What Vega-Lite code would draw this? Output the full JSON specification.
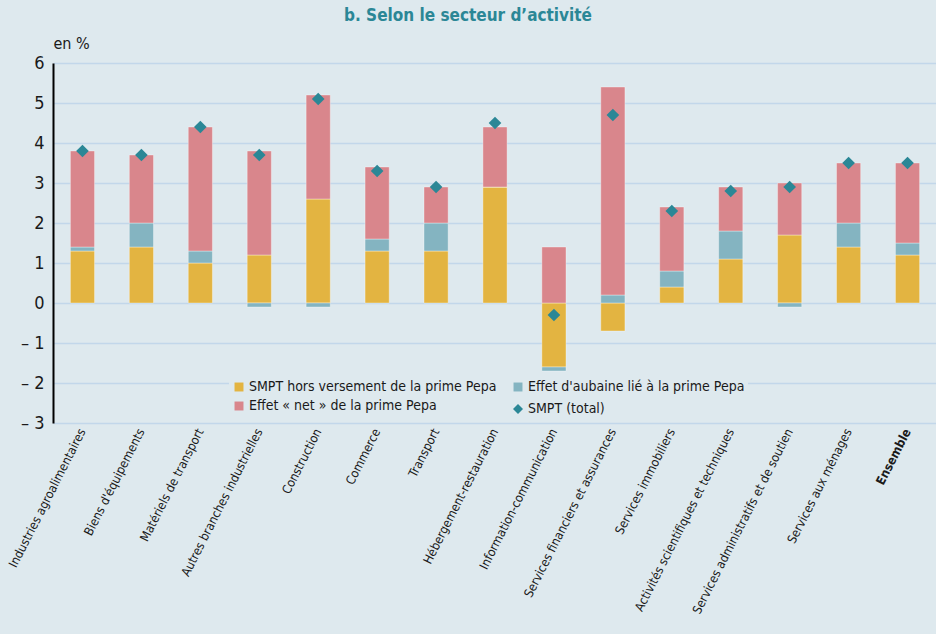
{
  "$schema": "https://vega.github.io/schema/vega-lite/v6.json",
  "autosize": {"type": "none"},
  "padding": {"left": 53, "top": 63, "right": 0, "bottom": 211},
  "width": 884,
  "height": 360,
  "background": "#dee9ee",
  "title": {
    "text": "b. Selon le secteur d’activité",
    "fontSize": 17,
    "font": "DejaVu Sans Condensed, sans-serif",
    "fontWeight": "bold",
    "color": "#2b8796",
    "anchor": "middle",
    "dx": -27,
    "offset": 10
  },
  "config": {
    "view": {"stroke": null},
    "font": "DejaVu Sans Condensed, sans-serif"
  },
  "datasets": {
    "barres": [
      {"secteur": "Industries agroalimentaires", "serie": "SMPT hors versement de la prime Pepa", "valeur": 1.3},
      {"secteur": "Industries agroalimentaires", "serie": "Effet d'aubaine lié à la prime Pepa", "valeur": 0.1},
      {"secteur": "Industries agroalimentaires", "serie": "Effet « net » de la prime Pepa", "valeur": 2.4},
      {"secteur": "Biens d'équipements", "serie": "SMPT hors versement de la prime Pepa", "valeur": 1.4},
      {"secteur": "Biens d'équipements", "serie": "Effet d'aubaine lié à la prime Pepa", "valeur": 0.6},
      {"secteur": "Biens d'équipements", "serie": "Effet « net » de la prime Pepa", "valeur": 1.7},
      {"secteur": "Matériels de transport", "serie": "SMPT hors versement de la prime Pepa", "valeur": 1.0},
      {"secteur": "Matériels de transport", "serie": "Effet d'aubaine lié à la prime Pepa", "valeur": 0.3},
      {"secteur": "Matériels de transport", "serie": "Effet « net » de la prime Pepa", "valeur": 3.1},
      {"secteur": "Autres branches industrielles", "serie": "SMPT hors versement de la prime Pepa", "valeur": 1.2},
      {"secteur": "Autres branches industrielles", "serie": "Effet d'aubaine lié à la prime Pepa", "valeur": -0.1},
      {"secteur": "Autres branches industrielles", "serie": "Effet « net » de la prime Pepa", "valeur": 2.6},
      {"secteur": "Construction", "serie": "SMPT hors versement de la prime Pepa", "valeur": 2.6},
      {"secteur": "Construction", "serie": "Effet d'aubaine lié à la prime Pepa", "valeur": -0.1},
      {"secteur": "Construction", "serie": "Effet « net » de la prime Pepa", "valeur": 2.6},
      {"secteur": "Commerce", "serie": "SMPT hors versement de la prime Pepa", "valeur": 1.3},
      {"secteur": "Commerce", "serie": "Effet d'aubaine lié à la prime Pepa", "valeur": 0.3},
      {"secteur": "Commerce", "serie": "Effet « net » de la prime Pepa", "valeur": 1.8},
      {"secteur": "Transport", "serie": "SMPT hors versement de la prime Pepa", "valeur": 1.3},
      {"secteur": "Transport", "serie": "Effet d'aubaine lié à la prime Pepa", "valeur": 0.7},
      {"secteur": "Transport", "serie": "Effet « net » de la prime Pepa", "valeur": 0.9},
      {"secteur": "Hébergement-restauration", "serie": "SMPT hors versement de la prime Pepa", "valeur": 2.9},
      {"secteur": "Hébergement-restauration", "serie": "Effet d'aubaine lié à la prime Pepa", "valeur": 0.0},
      {"secteur": "Hébergement-restauration", "serie": "Effet « net » de la prime Pepa", "valeur": 1.5},
      {"secteur": "Information-communication", "serie": "SMPT hors versement de la prime Pepa", "valeur": -1.6},
      {"secteur": "Information-communication", "serie": "Effet d'aubaine lié à la prime Pepa", "valeur": -0.1},
      {"secteur": "Information-communication", "serie": "Effet « net » de la prime Pepa", "valeur": 1.4},
      {"secteur": "Services financiers et assurances", "serie": "SMPT hors versement de la prime Pepa", "valeur": -0.7},
      {"secteur": "Services financiers et assurances", "serie": "Effet d'aubaine lié à la prime Pepa", "valeur": 0.2},
      {"secteur": "Services financiers et assurances", "serie": "Effet « net » de la prime Pepa", "valeur": 5.2},
      {"secteur": "Services immobiliers", "serie": "SMPT hors versement de la prime Pepa", "valeur": 0.4},
      {"secteur": "Services immobiliers", "serie": "Effet d'aubaine lié à la prime Pepa", "valeur": 0.4},
      {"secteur": "Services immobiliers", "serie": "Effet « net » de la prime Pepa", "valeur": 1.6},
      {"secteur": "Activités scientifiques et techniques", "serie": "SMPT hors versement de la prime Pepa", "valeur": 1.1},
      {"secteur": "Activités scientifiques et techniques", "serie": "Effet d'aubaine lié à la prime Pepa", "valeur": 0.7},
      {"secteur": "Activités scientifiques et techniques", "serie": "Effet « net » de la prime Pepa", "valeur": 1.1},
      {"secteur": "Services administratifs et de soutien", "serie": "SMPT hors versement de la prime Pepa", "valeur": 1.7},
      {"secteur": "Services administratifs et de soutien", "serie": "Effet d'aubaine lié à la prime Pepa", "valeur": -0.1},
      {"secteur": "Services administratifs et de soutien", "serie": "Effet « net » de la prime Pepa", "valeur": 1.3},
      {"secteur": "Services aux ménages", "serie": "SMPT hors versement de la prime Pepa", "valeur": 1.4},
      {"secteur": "Services aux ménages", "serie": "Effet d'aubaine lié à la prime Pepa", "valeur": 0.6},
      {"secteur": "Services aux ménages", "serie": "Effet « net » de la prime Pepa", "valeur": 1.5},
      {"secteur": "Ensemble", "serie": "SMPT hors versement de la prime Pepa", "valeur": 1.2},
      {"secteur": "Ensemble", "serie": "Effet d'aubaine lié à la prime Pepa", "valeur": 0.3},
      {"secteur": "Ensemble", "serie": "Effet « net » de la prime Pepa", "valeur": 2.0}
    ],
    "totaux": [
      {"secteur": "Industries agroalimentaires", "serie": "SMPT (total)", "valeur": 3.8},
      {"secteur": "Biens d'équipements", "serie": "SMPT (total)", "valeur": 3.7},
      {"secteur": "Matériels de transport", "serie": "SMPT (total)", "valeur": 4.4},
      {"secteur": "Autres branches industrielles", "serie": "SMPT (total)", "valeur": 3.7},
      {"secteur": "Construction", "serie": "SMPT (total)", "valeur": 5.1},
      {"secteur": "Commerce", "serie": "SMPT (total)", "valeur": 3.3},
      {"secteur": "Transport", "serie": "SMPT (total)", "valeur": 2.9},
      {"secteur": "Hébergement-restauration", "serie": "SMPT (total)", "valeur": 4.5},
      {"secteur": "Information-communication", "serie": "SMPT (total)", "valeur": -0.3},
      {"secteur": "Services financiers et assurances", "serie": "SMPT (total)", "valeur": 4.7},
      {"secteur": "Services immobiliers", "serie": "SMPT (total)", "valeur": 2.3},
      {"secteur": "Activités scientifiques et techniques", "serie": "SMPT (total)", "valeur": 2.8},
      {"secteur": "Services administratifs et de soutien", "serie": "SMPT (total)", "valeur": 2.9},
      {"secteur": "Services aux ménages", "serie": "SMPT (total)", "valeur": 3.5},
      {"secteur": "Ensemble", "serie": "SMPT (total)", "valeur": 3.5}
    ]
  },
  "encoding": {
    "x": {
      "field": "secteur",
      "type": "nominal",
      "sort": null,
      "scale": {"paddingInner": 0.59, "paddingOuter": 0.295},
      "axis": {
        "title": null,
        "labelAngle": -63,
        "labelFontSize": 12.5,
        "labelColor": "#1a1a1a",
        "labelPadding": 6,
        "labelLimit": 320,
        "labelFontWeight": {"condition": {"test": "datum.value === 'Ensemble'", "value": "bold"}, "value": "normal"},
        "domain": false,
        "ticks": false,
        "grid": false
      }
    }
  },
  "layer": [
    {
      "data": {"name": "barres"},
      "transform": [
        {"calculate": "indexof(['SMPT hors versement de la prime Pepa', 'Effet d\\'aubaine lié à la prime Pepa', 'Effet « net » de la prime Pepa'], datum.serie)", "as": "rang"}
      ],
      "mark": {"type": "bar", "stroke": "#ffffff", "strokeOpacity": 0.35, "strokeWidth": 1},
      "encoding": {
        "y": {
          "field": "valeur",
          "type": "quantitative",
          "aggregate": "sum",
          "stack": "zero",
          "scale": {"domain": [-3, 6], "nice": false},
          "axis": {
            "title": "en %",
            "titleAngle": 0,
            "titleAlign": "left",
            "titleBaseline": "alphabetic",
            "titleX": 0,
            "titleY": -15,
            "titleFontSize": 16,
            "titleFontWeight": "normal",
            "titleColor": "#1a1a1a",
            "values": [-3, -2, -1, 0, 1, 2, 3, 4, 5, 6],
            "tickCount": 12,
            "labelExpr": "datum.value < 0 ? '– ' + (-datum.value) : datum.label",
            "labelOverlap": false,
            "labelFontSize": 18,
            "labelColor": "#1a1a1a",
            "labelPadding": 9,
            "ticks": false,
            "domainColor": "#000000",
            "domainWidth": 2,
            "gridColor": "#c2d7ea",
            "gridWidth": 1.5
          }
        },
        "color": {
          "field": "serie",
          "type": "nominal",
          "scale": {
            "domain": ["SMPT hors versement de la prime Pepa", "Effet « net » de la prime Pepa", "Effet d'aubaine lié à la prime Pepa"],
            "range": ["#e3b441", "#d9868c", "#84b4c1"]
          },
          "legend": {
            "title": null,
            "orient": "none",
            "legendX": 176,
            "legendY": 314,
            "columns": 2,
            "columnPadding": 14,
            "rowPadding": 5,
            "padding": 3,
            "fillColor": "#dee9ee",
            "labelFontSize": 14,
            "labelColor": "#1a1a1a",
            "labelLimit": 400,
            "labelOffset": 3,
            "symbolType": "square",
            "symbolSize": 80,
            "symbolStrokeWidth": 0
          }
        },
        "order": {"field": "rang", "type": "quantitative"}
      }
    },
    {
      "mark": {"type": "rule", "color": "#000000", "strokeWidth": 2},
      "encoding": {"y": {"datum": 0}}
    },
    {
      "data": {"name": "totaux"},
      "mark": {"type": "point", "filled": true, "size": 160, "opacity": 1, "color": "#2b8796"},
      "encoding": {
        "y": {"field": "valeur", "type": "quantitative"},
        "shape": {
          "field": "serie",
          "type": "nominal",
          "scale": {"domain": ["SMPT (total)"], "range": ["diamond"]},
          "legend": {
            "title": null,
            "orient": "none",
            "legendX": 455,
            "legendY": 336,
            "padding": 3,
            "fillColor": "#dee9ee",
            "labelFontSize": 14,
            "labelColor": "#1a1a1a",
            "labelOffset": 3,
            "symbolSize": 100,
            "symbolFillColor": "#2b8796",
            "symbolStrokeWidth": 0
          }
        }
      }
    }
  ]
}
